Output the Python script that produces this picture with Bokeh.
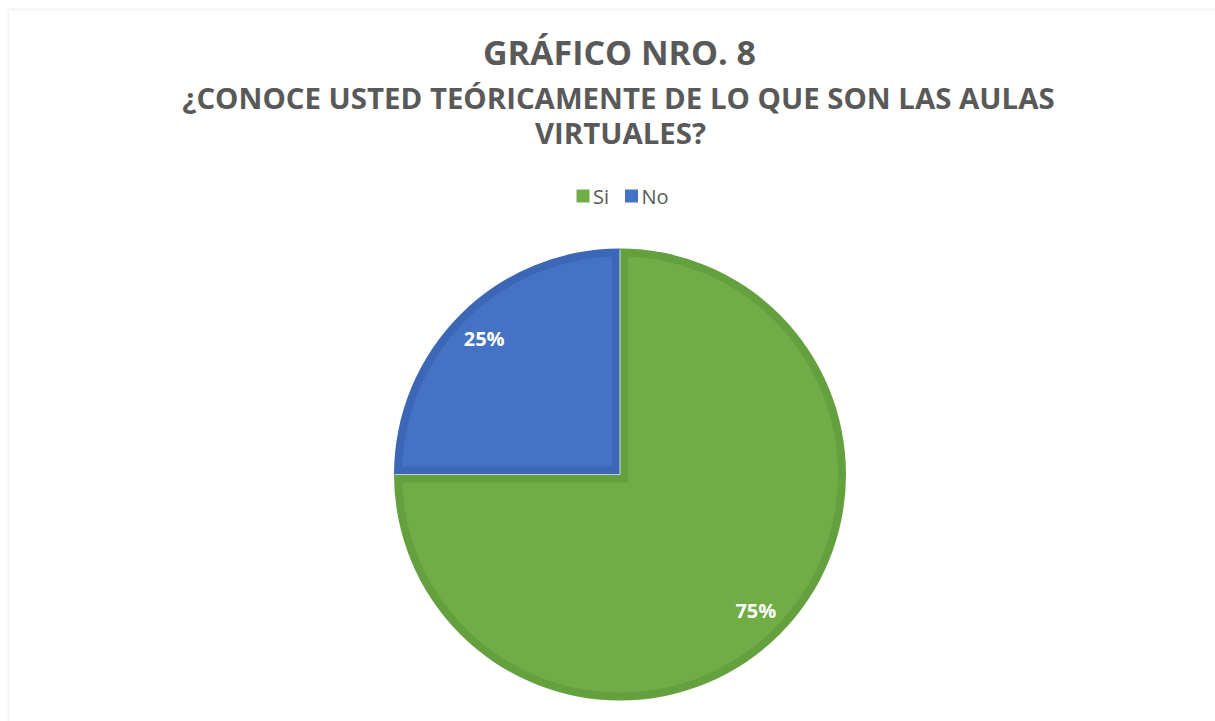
import math
from bokeh.plotting import figure
from bokeh.models import Range1d, ColumnDataSource, BoxAnnotation
from bokeh.core.properties import value
from bokeh.embed import file_html
from bokeh.resources import INLINE

# ---- data ----
categories = ["Si", "No"]
percents = [75, 25]
labels = ["75%", "25%"]
fill_colors = ["#70AD47", "#4472C4"]
edge_colors = ["#64A03D", "#3C67B6"]

title_main = "GRÁFICO NRO. 8"
title_sub1 = "¿CONOCE USTED TEÓRICAMENTE DE LO QUE SON LAS AULAS"
title_sub2 = "VIRTUALES?"

W, H = 1215, 721
FONT = "Open Sans"
GREY = "#595959"

def sx(X):  # page px -> data x
    return X

def sy(Y):  # page px -> data y
    return H - Y

p = figure(width=W, height=H, output_backend="svg", toolbar_location=None,
           x_range=Range1d(0, W), y_range=Range1d(0, H),
           min_border=0, outline_line_color=None,
           background_fill_color="white", border_fill_color="white")
p.axis.visible = False
p.grid.visible = False

# chart-area border (top and left visible, rest cropped)
p.add_layout(BoxAnnotation(left=sx(8), top=sy(9), right=sx(1400), bottom=sy(900),
                           fill_alpha=0, line_color="#D9D9D9", line_width=2))

# pie geometry
cx, cy, R = sx(619.5), sy(474), 226
d = 8  # inner border band width
total = float(sum(percents))
starts, ends, mids, spans = [], [], [], []
acc = 0.0
for v in percents:
    a0 = math.pi / 2 - 2 * math.pi * acc / total
    acc += v
    a1 = math.pi / 2 - 2 * math.pi * acc / total
    starts.append(a0)
    ends.append(a1)
    mids.append((a0 + a1) / 2)
    spans.append(a0 - a1)

src = ColumnDataSource(dict(cat=categories, val=percents, start=starts, end=ends,
                            fill=fill_colors, edge=edge_colors))
# dark full wedge, then lighter inner wedge -> inner border band along the arc
p.wedge(x=cx, y=cy, radius=R, start_angle="start", end_angle="end",
        direction="clock", fill_color="edge", line_color=None, source=src)
p.wedge(x=cx, y=cy, radius=R - d, start_angle="start", end_angle="end",
        direction="clock", fill_color="fill", line_color=None, source=src)

# dark bands along the straight edges, inside each slice
rx, ry, rang, rlen, rcol = [], [], [], [], []
for a0, a1, sp, col in zip(starts, ends, spans, edge_colors):
    back = d if sp > math.pi else 0  # reflex slice: extend past centre
    for a, sgn in ((a0, -1), (a1, +1)):
        # normal pointing into slice (clockwise from a0, counter-clockwise from a1)
        nx, ny = math.cos(a + sgn * math.pi / 2), math.sin(a + sgn * math.pi / 2)
        L = R - 1 + back
        mid = (R - 1 - back) / 2
        rx.append(cx + mid * math.cos(a) + nx * d / 2)
        ry.append(cy + mid * math.sin(a) + ny * d / 2)
        rang.append(a)
        rlen.append(L)
        rcol.append(col)
p.rect(x=rx, y=ry, width=rlen, height=d, angle=rang, fill_color=rcol, line_color=None)

# thin pale separator between slices
p.ray(x=cx, y=cy, length=R - 1, angle=starts, line_color="#D6E2EE",
      line_width=1.2, line_alpha=0.8)

# data labels
lr = 0.85 * R
lsrc = ColumnDataSource(dict(x=[cx + lr * math.cos(m) for m in mids],
                             y=[cy + lr * math.sin(m) for m in mids],
                             t=labels))
p.text(x="x", y="y", text="t", source=lsrc, text_color="white",
       text_font=value(FONT), text_font_style="bold", text_font_size="20px",
       text_align="center", text_baseline="middle")

# titles
p.text(x=[sx(619)], y=[sy(51)], text=[title_main], text_color=GREY,
       text_font=value(FONT), text_font_style="bold", text_font_size="34px",
       text_align="center", text_baseline="middle")
p.text(x=[sx(618)], y=[sy(97)], text=[title_sub1], text_color=GREY,
       text_font=value(FONT), text_font_style="bold", text_font_size="29.4px",
       text_align="center", text_baseline="middle")
p.text(x=[sx(620)], y=[sy(132)], text=[title_sub2], text_color=GREY,
       text_font=value(FONT), text_font_style="bold", text_font_size="29.4px",
       text_align="center", text_baseline="middle")

# legend (manual, horizontal)
leg_x = [sx(582.5), sx(631)]
leg_y = sy(195.5)
p.scatter(x=leg_x, y=[leg_y] * len(categories), marker="square", size=13,
          fill_color=fill_colors, line_color=None)
p.text(x=[x + 10 for x in leg_x], y=[leg_y] * len(categories), text=categories,
       text_color=GREY, text_font=value(FONT), text_font_size="20px",
       text_align="left", text_baseline="middle")

open("out.html", "w").write(file_html(p, INLINE))
